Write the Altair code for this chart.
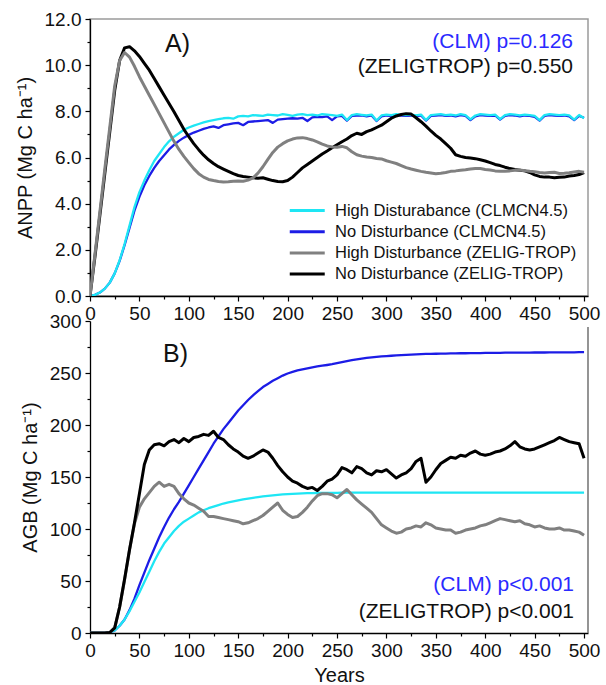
import altair as alt
import pandas as pd

# ---------------- data ----------------
YEARS = list(range(0, 505, 5))

SERIES = [
    "High Disturabance (CLMCN4.5)",
    "No Disturbance (CLMCN4.5)",
    "High Disturbance (ZELIG-TROP)",
    "No Disturbance (ZELIG-TROP)",
]
COLORS = ["#1ee6f4", "#1c1ce6", "#808080", "#000000"]
WIDTHS = [2.3, 2.3, 3.0, 3.0]
DRAW_ORDER_A = [1, 0, 3, 2]
DRAW_ORDER_B = [1, 0, 2, 3]

# Panel A: ANPP (Mg C ha-1), every 5 years
ANPP_CLM_HIGH = [
    0.00, 0.05, 0.15, 0.32, 0.58, 0.98, 1.55, 2.25, 3.05, 3.85,
    4.50, 5.00, 5.45, 5.85, 6.15, 6.45, 6.70, 6.90, 7.05, 7.20,
    7.30, 7.38, 7.45, 7.52, 7.58, 7.62, 7.66, 7.70, 7.72, 7.68,
    7.78, 7.80, 7.78, 7.84, 7.82, 7.80, 7.86, 7.84, 7.82, 7.88,
    7.85, 7.80, 7.86, 7.88, 7.84, 7.86, 7.82, 7.88, 7.86, 7.84,
    7.80, 7.86, 7.62, 7.84, 7.88, 7.85, 7.82, 7.86, 7.60, 7.82,
    7.86, 7.84, 7.88, 7.85, 7.84, 7.86, 7.82, 7.86, 7.62, 7.84,
    7.86, 7.88, 7.84, 7.86, 7.82, 7.88, 7.84, 7.65, 7.82, 7.88,
    7.86, 7.84, 7.86, 7.66, 7.84, 7.88, 7.86, 7.82, 7.86, 7.84,
    7.80, 7.62, 7.84, 7.88, 7.86, 7.84, 7.86, 7.82, 7.64, 7.84,
    7.70,
]
ANPP_CLM_NO = [
    0.00, 0.05, 0.15, 0.32, 0.58, 0.98, 1.52, 2.20, 2.95, 3.70,
    4.30, 4.80, 5.20, 5.55, 5.85, 6.10, 6.35, 6.55, 6.72, 6.86,
    6.98, 7.08, 7.16, 7.24, 7.30, 7.35, 7.28, 7.40, 7.44, 7.48,
    7.50, 7.40, 7.54, 7.56, 7.58, 7.60, 7.62, 7.50, 7.64, 7.66,
    7.68, 7.70, 7.68, 7.72, 7.58, 7.74, 7.76, 7.75, 7.78, 7.62,
    7.78, 7.80, 7.60, 7.80, 7.82, 7.82, 7.78, 7.82, 7.58, 7.78,
    7.82, 7.80, 7.84, 7.82, 7.80, 7.82, 7.78, 7.82, 7.60, 7.80,
    7.82, 7.84, 7.80, 7.82, 7.78, 7.84, 7.80, 7.62, 7.78, 7.84,
    7.82, 7.80, 7.82, 7.64, 7.80, 7.84, 7.82, 7.78, 7.82, 7.80,
    7.76, 7.60, 7.80, 7.84, 7.82, 7.80, 7.82, 7.78, 7.62, 7.80,
    7.72,
]
ANPP_ZELIG_HIGH = [
    0.00, 1.80, 3.65, 5.50, 7.30, 9.10, 10.20, 10.55, 10.35, 9.95,
    9.50, 9.10, 8.70, 8.30, 7.90, 7.50, 7.10, 6.70, 6.35, 6.05,
    5.78, 5.52, 5.30, 5.15, 5.05, 5.00, 4.96, 4.94, 4.95, 4.97,
    4.98, 4.97, 5.02, 5.12, 5.32, 5.60, 5.92, 6.22, 6.45, 6.60,
    6.72, 6.80, 6.85, 6.86, 6.82, 6.76, 6.68, 6.58, 6.50, 6.46,
    6.44, 6.48, 6.42, 6.25, 6.12, 6.06, 6.02, 6.00, 5.96, 5.94,
    5.86, 5.80, 5.74, 5.65, 5.56, 5.50, 5.45, 5.40, 5.36, 5.33,
    5.30, 5.32, 5.35, 5.40, 5.42, 5.45, 5.47, 5.50, 5.52, 5.52,
    5.48, 5.46, 5.42, 5.40, 5.40, 5.42, 5.45, 5.46, 5.43, 5.40,
    5.38, 5.35, 5.33, 5.35, 5.36, 5.31, 5.32, 5.34, 5.37, 5.40,
    5.36,
]
ANPP_ZELIG_NO = [
    0.00, 1.70, 3.50, 5.30, 7.10, 8.90, 10.20, 10.75, 10.80, 10.62,
    10.38, 10.08, 9.78, 9.42, 9.06, 8.70, 8.34, 7.98, 7.60, 7.22,
    6.90, 6.60, 6.34, 6.10, 5.90, 5.74, 5.60, 5.50, 5.40, 5.30,
    5.22, 5.18, 5.15, 5.12, 5.10, 5.12, 5.06, 5.00, 4.96, 4.95,
    5.00, 5.15, 5.35, 5.55, 5.70, 5.85, 6.00, 6.15, 6.28, 6.42,
    6.55, 6.68, 6.80, 6.95, 7.05, 7.00, 7.12, 7.20, 7.30, 7.40,
    7.55, 7.70, 7.80, 7.86, 7.90, 7.88, 7.72, 7.55, 7.36, 7.15,
    6.96, 6.80, 6.60, 6.40, 6.12, 6.05, 6.00, 5.98, 5.95, 5.90,
    5.85, 5.78, 5.70, 5.65, 5.58, 5.52, 5.48, 5.45, 5.42, 5.35,
    5.25, 5.18, 5.15, 5.15, 5.12, 5.14, 5.15, 5.20, 5.22, 5.26,
    5.35,
]

# Panel B: AGB (Mg C ha-1), every 5 years
AGB_CLM_HIGH = [
    0, 0, 0, 0, 0.5, 2.5, 7, 13, 21, 30,
    39, 49, 59, 69, 78, 86, 92, 98, 103, 107,
    110, 113, 116, 118, 120, 121.5, 123, 124.5, 125.5, 126.5,
    127.5, 128.5, 129.3, 130, 130.7, 131.3, 131.8, 132.3, 132.8, 133.2,
    133.5, 133.8, 134, 134.2, 134.4, 134.5, 134.6, 134.7, 134.8, 134.8,
    134.8, 134.9, 134.9, 134.9, 134.9, 135, 135, 135, 135, 135,
    135, 135, 135, 135, 135, 135, 135, 135, 135, 135,
    135, 135, 135, 135, 135, 135, 135, 135, 135, 135,
    135, 135, 135, 135, 135, 135, 135, 135, 135, 135,
    135, 135, 135, 135, 135, 135, 135, 135, 135, 135,
    135,
]
AGB_CLM_NO = [
    0, 0, 0, 0, 0.5, 2.5, 7, 13, 22, 33,
    46, 58, 70, 81, 92, 102, 111, 119, 126, 134,
    142, 150, 158, 166, 174, 182, 189, 196, 202, 208,
    214, 219, 224, 228.5, 232.5, 236.5, 239.5, 242.5, 245, 247.5,
    249.5, 251, 252.5, 253.5, 254.5, 255.5, 256.3, 257, 257.7, 258.5,
    259.5, 260.5, 261.5, 262.3, 263, 263.8, 264.5, 265, 265.5, 266,
    266.3, 266.6, 266.9, 267.2, 267.5, 267.7, 267.9, 268.1, 268.3, 268.4,
    268.5, 268.6, 268.7, 268.8, 268.9, 269, 269, 269.1, 269.2, 269.2,
    269.3, 269.3, 269.4, 269.4, 269.5, 269.5, 269.5, 269.6, 269.6, 269.6,
    269.7, 269.7, 269.7, 269.8, 269.8, 269.8, 269.9, 269.9, 269.9, 270,
    270,
]
AGB_ZELIG_HIGH = [
    0, 0, 0, 0, 0.5, 5, 25, 51, 80, 105,
    121, 129, 135, 141, 145, 141, 143, 141, 134, 129,
    125, 123, 120, 117, 112, 112, 111, 110, 109, 108,
    107, 105, 106, 108, 110, 113, 117, 121, 125, 118,
    114, 111, 112, 116, 121, 127, 132, 134, 134, 133,
    130, 134, 138, 133, 128, 124, 120, 116, 110, 104,
    101, 98, 96, 97, 100, 101, 103, 102, 106, 104,
    101, 100, 99, 99, 96, 97, 99, 100, 101, 103,
    104, 106, 108, 110, 109, 108, 107, 108, 105, 104,
    102, 103, 101, 100, 100, 101, 99, 99, 98, 97,
    94,
]
AGB_ZELIG_NO = [
    0, 0, 0, 0, 0.5, 5, 25, 52, 80, 106,
    134, 162, 176, 181, 182, 180, 184, 186, 183, 187,
    184, 188, 189, 191, 190, 194, 188, 186, 181, 177,
    174, 170, 168, 170, 173, 176, 174, 168, 161, 155,
    150, 146, 144, 141, 139, 140, 137, 141, 146, 148,
    152, 159, 157, 154, 160, 158, 154, 152, 156, 155,
    157, 153, 149, 152, 154, 158, 165, 168, 145, 150,
    157, 163, 166, 169, 168, 171, 170, 173, 175, 172,
    171, 172, 174, 175, 177, 180, 184, 179, 177, 176,
    177, 179, 181, 183, 185, 188, 186, 184, 183, 182,
    168,
]

NOTES_A = ["(CLM) p=0.126", "(ZELIGTROP) p=0.550"]
NOTES_B = ["(CLM) p<0.001", "(ZELIGTROP) p<0.001"]
NOTE_COLORS = ["#2a2aff", "#111111"]

X_TICKS = list(range(0, 501, 25))
ANPP_TICKS = list(range(0, 13, 1))
AGB_TICKS = list(range(0, 301, 25))
X_MAX = 504


def long_df(columns):
    rows = []
    for name, vals in zip(SERIES, columns):
        assert len(vals) == len(YEARS), (name, len(vals))
        for yr, v in zip(YEARS, vals):
            rows.append({"year": yr, "value": v, "series": name})
    return pd.DataFrame(rows)


anpp_df = long_df([ANPP_CLM_HIGH, ANPP_CLM_NO, ANPP_ZELIG_HIGH, ANPP_ZELIG_NO])
agb_df = long_df([AGB_CLM_HIGH, AGB_CLM_NO, AGB_ZELIG_HIGH, AGB_ZELIG_NO])

FONT = "Liberation Sans"
W = 498
H_A = 277
H_B = 312

color_scale = alt.Scale(domain=SERIES, range=COLORS)

legend_a = alt.Legend(
    title=None, orient="none", legendX=198, legendY=181,
    symbolType="M-1,0H3", symbolSize=306, symbolStrokeWidth=3,
    labelFontSize=16.5, labelFont=FONT, labelOffset=26, rowPadding=2.2,
    labelLimit=400, padding=0, labelColor="#111111",
)


def x_enc(title):
    axis = alt.Axis(
        values=X_TICKS,
        labelExpr="datum.value % 50 === 0 ? datum.label : ''",
        tickSize={"condition": {"test": "datum.value % 50 !== 0", "value": 3}, "value": 5},
        labelPadding=3, labelFontSize=19, labelFont=FONT, labelColor="#111111",
        domainColor="#000000", domainWidth=1.3, tickColor="#000000", tickWidth=1.2,
        grid=False, labelFlush=False, titleFontSize=20, titleFont=FONT,
        titleFontWeight="normal", titlePadding=5, titleColor="#111111",
    )
    return alt.X("year:Q", title=title, scale=alt.Scale(domain=[0, X_MAX], nice=False), axis=axis)


def y_enc(title, domain, ticks, expr):
    axis = alt.Axis(
        values=ticks, labelExpr=expr,
        tickSize={"condition": {"test": expr.split(' ?')[0], "value": 5}, "value": 3},
        labelPadding=4, labelFontSize=19, labelFont=FONT, labelColor="#111111",
        domainColor="#000000", domainWidth=1.3, tickColor="#000000", tickWidth=1.2,
        grid=False, titleFontSize=20, titleFont=FONT, titleFontWeight="normal",
        titlePadding=9, titleColor="#111111",
    )
    return alt.Y("value:Q", title=title, scale=alt.Scale(domain=domain, nice=False), axis=axis)


def panel(df, xtitle, ytitle, ydomain, yticks, yexpr, legend, order):
    layers = []
    for i in order:
        name = SERIES[i]
        if legend is not None:
            col = alt.Color("series:N", scale=color_scale, legend=legend)
        else:
            col = alt.Color("series:N", scale=color_scale, legend=None)
        layers.append(
            alt.Chart(df)
            .transform_filter(alt.datum.series == name)
            .mark_line(strokeWidth=WIDTHS[i], strokeJoin="round", clip=True)
            .encode(x=x_enc(xtitle), y=y_enc(ytitle, ydomain, yticks, yexpr), color=col)
        )
    return layers


def note(text, color, px, py, size, align="right"):
    return (
        alt.Chart(pd.DataFrame({"label": [text]}))
        .mark_text(align=align, baseline="middle", fontSize=size, font=FONT, color=color)
        .encode(text="label:N", x=alt.value(px), y=alt.value(py))
    )


layers_a = panel(
    anpp_df, None, "ANPP (Mg C ha\u207b\u00b9)", [0, 12], ANPP_TICKS,
    "datum.value % 2 === 0 ? format(datum.value, '.1f') : ''", legend_a, DRAW_ORDER_A,
)
layers_a += [
    note("A)", "#111111", 75, 25, 25, "left"),
    note(NOTES_A[0], NOTE_COLORS[0], 483, 23, 21),
    note(NOTES_A[1], NOTE_COLORS[1], 483, 48, 21),
]
top = alt.layer(*layers_a).properties(
    width=W, height=H_A,
    view=alt.ViewBackground(stroke="#9a9a9a", strokeWidth=1.5, strokeOpacity=1),
)

layers_b = panel(
    agb_df, "Years", "AGB (Mg C ha\u207b\u00b9)", [0, 300], AGB_TICKS,
    "datum.value % 50 === 0 ? format(datum.value, 'd') : ''", None, DRAW_ORDER_B,
)
right_edge = (
    alt.Chart(pd.DataFrame({"k": [0]}))
    .mark_rule(color="#7a7a7a", strokeWidth=1.6, opacity=1)
    .encode(x=alt.value(W), y=alt.value(6), y2=alt.value(H_B))
)
layers_b += [
    right_edge,
    note("B)", "#111111", 73, 33, 25, "left"),
    note(NOTES_B[0], NOTE_COLORS[0], 484, 264, 21),
    note(NOTES_B[1], NOTE_COLORS[1], 484, 291, 21),
]
bottom = alt.layer(*layers_b).properties(width=W, height=H_B)

chart = (
    alt.vconcat(top, bottom, spacing=25, bounds="flush")
    .resolve_legend(color="independent")
    .properties(padding={"left": 14, "top": 9, "right": 5, "bottom": 5}, background="white")
    .configure(font=FONT)
    .configure_view(strokeOpacity=0)
)

chart.save("out.html", embed_options={"renderer": "svg", "actions": False})
